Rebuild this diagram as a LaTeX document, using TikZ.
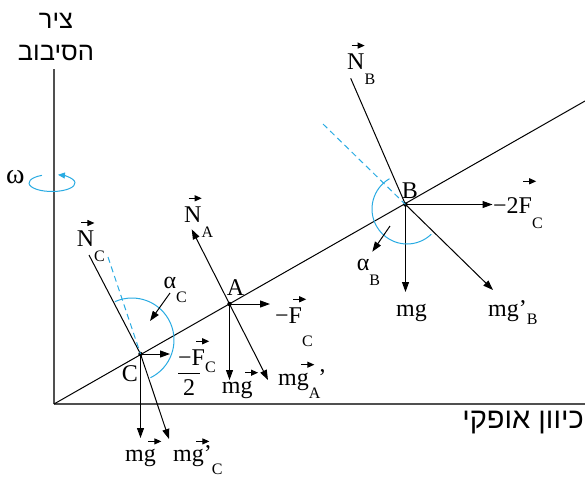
\documentclass[tikz,border=0pt]{standalone}
\usepackage{fontspec}
\setmainfont{Liberation Serif}
\newfontfamily\hebfont[Script=Hebrew]{Liberation Sans}
\usetikzlibrary{arrows.meta}
\TeXXeTstate=1
\definecolor{arcBlue}{HTML}{29ABE2}
\definecolor{axisGray}{HTML}{505050}
\newsavebox\vabox
% small vector arrow over a letter
\newcommand{\vecarr}[2][8pt]{%
  \sbox\vabox{#2}%
  \rlap{\hspace{4pt}\raisebox{\dimexpr\ht\vabox+#1\relax}{\tikz[baseline=0pt]\draw[-{Triangle[length=7pt,width=6pt]},line width=1pt,black] (0pt,0pt) -- (13pt,0pt);}}%
  \usebox\vabox}
\newcommand{\lsub}[2][15pt]{\raisebox{-#1}{\fontsize{16}{16}\selectfont #2}}

\begin{document}
\begin{tikzpicture}[x=1pt,y=-1pt,
    >={Triangle[length=10pt,width=7pt]},
    every node/.style={font=\fontsize{24}{28}\selectfont,inner sep=0pt},
    lbl/.style={anchor=base west},
    heb/.style={anchor=base,font=\hebfont\fontsize{25.5}{28}\selectfont},
    axis/.style={axisGray,line width=1.4pt},
    bar/.style={line width=1pt},
    force/.style={->,line width=1pt},
    guide/.style={arcBlue,dash pattern=on 6pt off 4pt,line width=1pt},
    angarc/.style={arcBlue,line width=1pt},
    dot/.style={circle,fill,inner sep=0pt,minimum size=4.5pt}
  ]
  \useasboundingbox (0,0) rectangle (585,477);
  %% Axes and the tilted rod
  \coordinate (O) at (54,404);
  \coordinate (axtop) at (54,69);
  \coordinate (axright) at (585,404);
  \coordinate (rodend) at (585,101);
  \draw[axis] (O) -- (axtop);
  \draw[axis] (O) -- (axright);
  \draw[bar] (O) -- (rodend);
  \node[heb] (axname) at (56,28) {\beginR ציר\endR};
  \node[heb] (axname2) at (56,60.7) {\beginR הסיבוב\endR};
  \node[heb,anchor=base east,font=\hebfont\fontsize{29}{32}\selectfont] (horname) at (584,428.3) {\beginR כיוון אופקי\endR};
  %% Rotation
  \node[lbl,font=\fontsize{28}{30}\selectfont] (omega) at (6,183.3) {ω};
  \draw[angarc,-{Triangle[length=7pt,width=6pt]}] (52,183) ++(-116:23 and 8.5) arc[start angle=-116,end angle=-435,x radius=23,y radius=8.5];
  %% Points on the rod
  \node[dot] (C) at (140.5,354) {};
  \node[dot] (A) at (229.5,304) {};
  \node[dot] (B) at (405.5,204.5) {};
  \node[lbl] (Clbl) at (121.7,381.7) {C};
  \node[lbl] (Albl) at (226.7,295) {A};
  \node[lbl] (Blbl) at (401.7,198) {B};
  %% Point C
  \coordinate (NCend) at (89,255);
  \coordinate (gdC) at (108,257);
  \coordinate (FCend) at (170,354);
  \coordinate (mgCend) at (140.5,438);
  \coordinate (mgpCend) at (169,439);
  \draw[bar] (C.center) -- (NCend);
  \draw[guide] (gdC) -- (C.center);
  \draw[force] (C.center) -- (FCend);
  \draw[force] (C.center) -- (mgCend);
  \draw[force] (C.center) -- (mgpCend);
  \draw[angarc] (132,340) ++(-114:42) arc[start angle=-114,end angle=64,radius=42];
  \coordinate (aCtail) at (170,293);
  \coordinate (aCtip) at (150,321);
  \draw[force] (aCtail) -- (aCtip);
  \node[lbl] (NC) at (76.7,246.7) {\vecarr{N}\lsub{C}};
  \node[lbl] (alC) at (163.3,288) {α\lsub[14pt]{C}};
  \node[lbl] (FChalf) at (178,365) {−\vecarr{F}\lsub[7pt]{C}};
  \node[lbl] (FCtwo) at (178,395) {\rule[21.5pt]{22pt}{1pt}\llap{\makebox[22pt]{2}}};
  \node[lbl] (mgC) at (125,461.7) {m\vecarr{g}};
  \node[lbl] (mgpC) at (173,461.7) {m\vecarr{g}’\lsub[13pt]{C}};
  %% Point A
  \coordinate (NAend) at (191.7,229.3);
  \coordinate (FAend) at (270,304);
  \coordinate (mgAend) at (229.5,380);
  \coordinate (mgpAend) at (268,380);
  \draw[force] (A.center) -- (NAend);
  \draw[force] (A.center) -- (FAend);
  \draw[force] (A.center) -- (mgAend);
  \draw[force] (A.center) -- (mgpAend);
  \node[lbl] (NA) at (184,222) {\vecarr{N}\lsub{A}};
  \node[lbl] (FA) at (275,323) {−\vecarr{F}\lsub[23pt]{C}};
  \node[lbl] (mgA) at (221.7,393) {m\vecarr{g}};
  \node[lbl] (mgpA) at (278,385) {m\vecarr{g}\lsub[13pt]{A}\hspace{-2pt}’};
  %% Point B
  \coordinate (NBend) at (350.7,78.3);
  \coordinate (gdB) at (323,124);
  \coordinate (F2end) at (492.5,204.5);
  \coordinate (mgBend) at (405.5,292);
  \coordinate (mgpBend) at (493,290);
  \draw[bar] (B.center) -- (NBend);
  \draw[guide] (gdB) -- (B.center);
  \draw[force] (B.center) -- (F2end);
  \draw[force] (B.center) -- (mgBend);
  \draw[force] (B.center) -- (mgpBend);
  \draw[angarc] (407,209) ++(-120:35) arc[start angle=-120,end angle=-314,radius=35];
  \coordinate (aBtail) at (390,226);
  \coordinate (aBtip) at (372.3,251.7);
  \draw[force] (aBtail) -- (aBtip);
  \node[lbl] (NB) at (347,69.3) {\vecarr{N}\lsub{B}};
  \node[lbl] (alB) at (356.7,270) {α\lsub{B}};
  \node[lbl] (F2) at (493,213) {−2\vecarr[16pt]{F}\lsub{C}};
  \node[lbl] (mgB) at (396,316.7) {mg};
  \node[lbl] (mgpB) at (488,316.7) {mg’\lsub[8pt]{B}};
\end{tikzpicture}
\end{document}
